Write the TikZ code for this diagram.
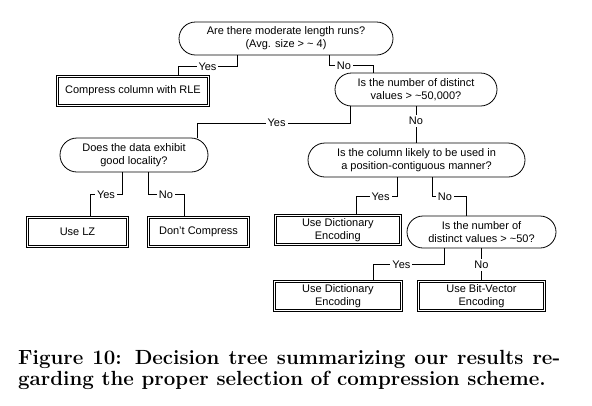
\documentclass[tikz,border=0pt]{standalone}
\usepackage{fontspec}
\setsansfont{Liberation Sans}
\usetikzlibrary{shapes.misc}

\begin{document}
\begin{tikzpicture}[x=1pt, y=-1pt, font=\sffamily\fontsize{11}{13}\selectfont]
 \tikzstyle{decision}=[draw, rounded rectangle, line width=0.8pt, align=center, inner sep=1pt, minimum height=33pt]
 \tikzstyle{leaf}=[draw, double, double distance=1.3pt, line width=0.8pt, align=center, inner sep=1pt, minimum height=29pt]
 \tikzstyle{answer}=[fill=white, inner sep=2pt]
 \tikzstyle{branch}=[line width=0.8pt]
 \useasboundingbox (0,0) rectangle (592,405);
 % questions and leaves
 \node[decision, minimum width=216pt] (runs) at (286,38.5) {Are there moderate length runs?\\(Avg. size > \textasciitilde{} 4)};
 \node[leaf, minimum width=151pt] (rle) at (133,91) {Compress column with RLE};
 \node[decision, minimum width=164pt] (distinct) at (416,89.5) {Is the number of distinct\\values > \textasciitilde50,000?};
 \node[decision, minimum width=150pt, minimum height=34pt] (locality) at (134,155) {Does the data exhibit\\good locality?};
 \node[leaf, minimum width=100pt] (lz) at (77.5,232) {Use LZ};
 \node[leaf, minimum width=100pt] (none) at (198.5,232) {Don't Compress};
 \node[decision, minimum width=219pt, minimum height=34pt] (contig) at (416.5,160) {Is the column likely to be used in\\a position-contiguous manner?};
 \node[leaf, minimum width=125pt] (dicta) at (337.8,230.3) {Use Dictionary\\Encoding};
 \node[decision, minimum width=151pt, minimum height=32pt] (few) at (481.5,232) {Is the number of\\distinct values > \textasciitilde50?};
 \node[leaf, minimum width=127pt] (dictb) at (338,296) {Use Dictionary\\Encoding};
 \node[leaf, minimum width=126pt] (bitvec) at (481.5,296) {Use Bit-Vector\\Encoding};
 % branches
 \draw[branch] ([xshift=-49]runs.south) -- ++(0,11) -| node[answer,pos=0.25]{Yes} ([xshift=45]rle.north);
 \draw[branch] ([xshift=43]runs.south) -- ++(0,10) -| node[answer,pos=0.17]{No} ([xshift=-43]distinct.north);
 \draw[branch] ([xshift=-66]distinct.south) -- ++(0,16.5) -| node[answer,pos=0.24]{Yes} ([xshift=63]locality.north);
 \draw[branch] (distinct.south) -- node[answer,pos=0.4]{No} (distinct.south |- contig.north);
 \draw[branch] ([xshift=-12]locality.south) -- ++(0,22) -| node[answer,pos=0.25]{Yes} ([xshift=12.5]lz.north);
 \draw[branch] ([xshift=14]locality.south) -- ++(0,22) -| node[answer,pos=0.25]{No} ([xshift=-14.5]none.north);
 \draw[branch] ([xshift=-19.5]contig.south) -- ++(0,19) -| node[answer,pos=0.2]{Yes} ([xshift=18.2]dicta.north);
 \draw[branch] ([xshift=15.5]contig.south) -- ++(0,19) -| node[answer,pos=0.19]{No} ([xshift=-15.5]few.north);
 \draw[branch] ([xshift=-37.5]few.south) -- ++(0,16) -| node[answer,pos=0.3]{Yes} ([xshift=35]dictb.north);
 \draw[branch] (few.south) -- node[answer]{No} (bitvec.north);
 % caption
 \node[anchor=base west, text width=542pt, align=justify, inner sep=0pt, font={\rmfamily\bfseries\fontsize{20.5}{21}\selectfont}] (caption) at (18,364) {Figure 10: Decision tree summarizing our results re-\linebreak garding the proper selection of compression scheme.};
\end{tikzpicture}
\end{document}
